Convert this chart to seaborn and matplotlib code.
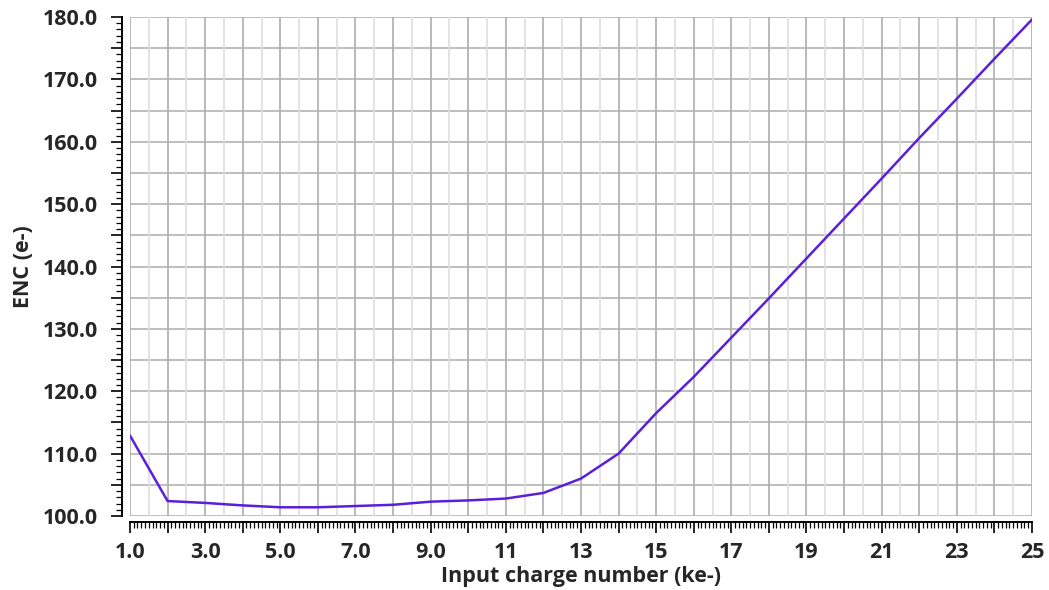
import numpy as np
import pandas as pd
import matplotlib
matplotlib.use("Agg")
import matplotlib.pyplot as plt
import seaborn as sns
from matplotlib.ticker import MultipleLocator, FixedLocator, FixedFormatter

# Data
charge_ke = [1, 2, 3, 4, 5, 6, 7, 8, 9, 10, 11, 12, 13,
             14, 15, 16, 17, 18, 19, 20, 21, 22, 23, 24, 25]
enc_e = [112.9, 102.4, 102.1, 101.7, 101.4, 101.4, 101.6, 101.8, 102.3,
         102.5, 102.8, 103.7, 106.0, 110.0, 116.5, 122.3, 128.6, 134.9,
         141.3, 147.7, 154.1, 160.6, 166.9, 173.3, 179.6]

# labels shown only on odd integers (every integer gets a major tick)
x_tick_values = list(range(1, 26))
x_tick_labels = ["1.0", "", "3.0", "", "5.0", "", "7.0", "", "9.0", "",
                 "11", "", "13", "", "15", "", "17", "", "19", "",
                 "21", "", "23", "", "25"]
y_tick_values = list(range(100, 181, 5))
y_tick_labels = ["100.0", "", "110.0", "", "120.0", "", "130.0", "",
                 "140.0", "", "150.0", "", "160.0", "", "170.0", "",
                 "180.0"]

df = pd.DataFrame({"charge": charge_ke, "enc": enc_e})

sns.set_style("white")
plt.rcParams["font.family"] = ["Open Sans", "DejaVu Sans"]
plt.rcParams["font.weight"] = "bold"

fig = plt.figure(figsize=(10.49, 5.90), dpi=100)
ax = fig.add_axes([0.1239, 0.1254, 0.8599, 0.8458])

# grid: horizontal every 5, vertical every 0.5 (half lines lighter)
for yv in np.arange(100, 181, 5):
    ax.axhline(yv, color="#b3b3b3", lw=1.2, zorder=0)
for xv in np.arange(1, 25.01, 0.5):
    col = "#adadad" if xv % 1 == 0 else "#dedede"
    ax.axvline(xv, color=col, lw=1.2, zorder=0)

sns.lineplot(data=df, x="charge", y="enc", ax=ax, color="#5a1fd8",
             lw=1.8, zorder=3)

ax.set_xlim(1, 25)
ax.set_ylim(100, 180)

ax.spines["top"].set_visible(False)
ax.spines["right"].set_visible(False)
ax.spines["left"].set_position(("outward", 6))
ax.spines["bottom"].set_position(("outward", 4))
for s in ["left", "bottom"]:
    ax.spines[s].set_color("black")
    ax.spines[s].set_linewidth(1.4)

ax.xaxis.set_major_locator(FixedLocator(x_tick_values))
ax.xaxis.set_major_formatter(FixedFormatter(x_tick_labels))
ax.xaxis.set_minor_locator(MultipleLocator(0.1))
ax.yaxis.set_major_locator(FixedLocator(y_tick_values))
ax.yaxis.set_major_formatter(FixedFormatter(y_tick_labels))
ax.yaxis.set_minor_locator(MultipleLocator(1))

ax.tick_params(axis="both", which="both", bottom=True, left=True,
               direction="out", color="black")
ax.tick_params(axis="both", which="major", length=8, width=1.2,
               labelsize=15.5)
ax.tick_params(axis="x", which="major", pad=7)
ax.tick_params(axis="y", which="major", pad=9)
ax.tick_params(axis="both", which="minor", length=4, width=0.9)

for lab in ax.get_xticklabels() + ax.get_yticklabels():
    lab.set_fontweight("bold")

ax.set_xlabel("Input charge number (ke-)", fontsize=15.5, fontweight="bold",
              labelpad=2)
ax.set_ylabel("ENC (e-)", fontsize=15.5, fontweight="bold", labelpad=6)

fig.savefig("out.png", dpi=100)
